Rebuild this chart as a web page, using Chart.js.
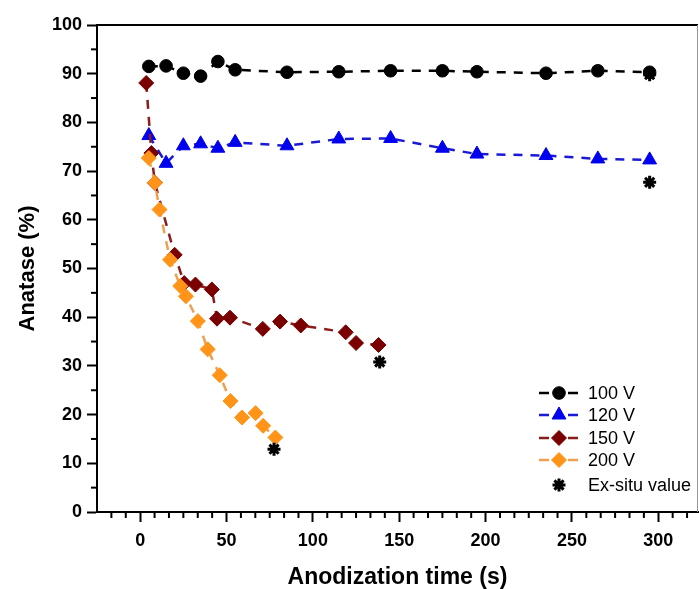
<!DOCTYPE html>
<html>
<head>
<meta charset="utf-8">
<script src="https://cdn.jsdelivr.net/npm/chart.js@4.4.0/dist/chart.umd.min.js"></script>
<style>
  html, body { margin: 0; padding: 0; background: #fff; }
</style>
</head>
<body>
<canvas id="anataseChart" width="699" height="589"></canvas>
<script>
// Anatase fraction vs anodization time
const time100 = [5, 15, 25, 35, 45, 55, 85, 115, 145, 175, 195, 235, 265, 295];
const anatase100 = [91.5, 91.6, 90.1, 89.5, 92.5, 90.8, 90.3, 90.4, 90.6, 90.6, 90.4, 90.1, 90.6, 90.3];

const time120 = [5, 15, 25, 35, 45, 55, 85, 115, 145, 175, 195, 235, 265, 295];
const anatase120 = [77.3, 71.6, 75.2, 75.6, 74.7, 75.9, 75.2, 76.6, 76.7, 74.7, 73.5, 73.2, 72.5, 72.3];

const time150 = [3.5, 6.5, 8.5, 20, 25.5, 32, 41.5, 44.5, 52, 71, 81, 93, 119, 125, 138];
const anatase150 = [88.1, 73.7, 67.6, 52.8, 47, 46.7, 45.7, 39.7, 39.9, 37.6, 39.1, 38.3, 36.9, 34.7, 34.3];

const time200 = [5, 8.5, 11.2, 17.3, 23.2, 26.5, 33.4, 39.1, 46.1, 52.3, 59, 66.8, 71.2, 78.3];
const anatase200 = [72.7, 67.6, 62.1, 51.8, 46.4, 44.3, 39.2, 33.4, 28.1, 22.8, 19.4, 20.3, 17.7, 15.3];

const timeExSitu = [295, 295, 138.7, 77.5];
const anataseExSitu = [89.8, 67.7, 30.8, 12.9];

const xTicks = [0, 50, 100, 150, 200, 250, 300];
const yTicks = [0, 10, 20, 30, 40, 50, 60, 70, 80, 90, 100];

const FONT = 'Liberation Sans, Arial, Helvetica, sans-serif';
Chart.defaults.font.family = FONT;
Chart.defaults.color = '#000';

const toPoints = (xs, ys) => xs.map((x, i) => ({ x: x, y: ys[i] }));

function lineSet(label, xs, ys, color, lineColor, style, radius, order) {
    return {
        label: label,
        data: toPoints(xs, ys),
        borderColor: lineColor,
        backgroundColor: color,
        pointBackgroundColor: color,
        pointBorderColor: color,
        pointBorderWidth: 1,
        pointStyle: style,
        pointRadius: radius,
        borderWidth: 2.5,
        borderDash: [9, 8],
        tension: 0,
        order: order
    };
}

// minor ticks + top/right frame
const framePlugin = {
    id: 'frame',
    afterDraw(chart) {
        const ctx = chart.ctx;
        const a = chart.chartArea;
        const xs = chart.scales.x, ys = chart.scales.y;
        ctx.save();
        ctx.strokeStyle = '#000';
        ctx.lineWidth = 2;
        ctx.beginPath();
        ctx.moveTo(a.left - 1, a.top);
        ctx.lineTo(a.right, a.top);
        ctx.stroke();
        // minor ticks
        for (let v = 5; v < 100; v += 10) {
            const py = ys.getPixelForValue(v);
            ctx.beginPath();
            ctx.moveTo(a.left - 6, py);
            ctx.lineTo(a.left, py);
            ctx.stroke();
        }
        for (let v = -25; v <= 325; v += 50 / 6) {
            if (Math.abs(v / 50 - Math.round(v / 50)) < 1e-6) continue;
            const px = xs.getPixelForValue(v);
            if (px < a.left + 1 || px > a.right) continue;
            ctx.beginPath();
            ctx.moveTo(px, a.bottom);
            ctx.lineTo(px, a.bottom + 6);
            ctx.stroke();
        }
        ctx.strokeStyle = '#999';
        ctx.lineWidth = 1;
        ctx.beginPath();
        ctx.moveTo(a.right - 0.5, a.top);
        ctx.lineTo(a.right - 0.5, a.bottom);
        ctx.stroke();
        ctx.restore();
    }
};

// legend drawn inside the plot, line-marker-line like the original
const legendPlugin = {
    id: 'innerLegend',
    afterDraw(chart) {
        const ctx = chart.ctx;
        const rowsY = [393, 415, 438, 460, 485];
        const x0 = 539, xm = 559, x1 = 578, xt = 588;
        ctx.save();
        ctx.font = '18px ' + FONT;
        ctx.textBaseline = 'middle';
        ctx.textAlign = 'left';
        chart.data.datasets.forEach((ds, i) => {
            const y = rowsY[i];
            if (ds.showLine !== false) {
                ctx.strokeStyle = ds.borderColor;
                ctx.lineWidth = 2.5;
                ctx.beginPath();
                ctx.moveTo(x0, y); ctx.lineTo(x0 + 10, y);
                ctx.moveTo(x1 - 10, y); ctx.lineTo(x1, y);
                ctx.stroke();
            }
            ctx.fillStyle = ds.pointBackgroundColor;
            ctx.strokeStyle = ds.pointBorderColor;
            ctx.lineWidth = ds.pointBorderWidth;
            Chart.helpers.drawPoint(ctx, {
                pointStyle: ds.pointStyle,
                radius: ds.pointRadius,
                rotation: 0,
                borderWidth: ds.pointBorderWidth
            }, xm, y);
            ctx.fillStyle = '#000';
            ctx.fillText(ds.label, xt, y + 1);
        });
        ctx.restore();
    }
};

const exSitu = {
    label: 'Ex-situ value',
    data: toPoints(timeExSitu, anataseExSitu),
    showLine: false,
    pointStyle: 'star',
    pointRadius: 6.5,
    pointBorderWidth: 3,
    pointBackgroundColor: '#000',
    pointBorderColor: '#000',
    borderColor: '#000',
    backgroundColor: '#000',
    order: 0
};

const noPad = s => { s.paddingLeft = 0; s.paddingRight = 0; s.paddingTop = 0; s.paddingBottom = 0; };

window.anataseChart = new Chart(document.getElementById('anataseChart').getContext('2d'), {
    type: 'line',
    data: {
        datasets: [
            lineSet('100 V', time100, anatase100, '#000000', '#000000', 'circle', 6.3, 4),
            lineSet('120 V', time120, anatase120, '#0000ee', '#1a1ad6', 'triangle', 8, 3),
            lineSet('150 V', time150, anatase150, '#7a0000', '#8a1c1c', 'rectRot', 7.5, 2),
            lineSet('200 V', time200, anatase200, '#ff9418', '#eea050', 'rectRot', 7.5, 1),
            exSitu
        ]
    },
    options: {
        responsive: false,
        animation: false,
        layout: { autoPadding: false, padding: { top: 25, right: 1, left: 0, bottom: 0 } },
        plugins: {
            legend: { display: false },
            tooltip: { enabled: false }
        },
        scales: {
            x: {
                type: 'linear',
                min: -25,
                max: 323,
                afterBuildTicks: s => { s.ticks = xTicks.map(v => ({ value: v })); },
                afterFit: s => { s.height = 77; noPad(s); },
                border: { display: true, color: '#000', width: 2 },
                grid: { drawOnChartArea: false, drawTicks: true, tickLength: 10, tickWidth: 2, color: '#000' },
                ticks: { color: '#000', font: { size: 18, weight: 'bold' }, padding: 8, maxRotation: 0 },
                title: {
                    display: true,
                    text: 'Anodization time (s)',
                    color: '#000',
                    font: { size: 23, weight: 'bold', lineHeight: 1.0 },
                    padding: { top: 6, bottom: 0 }
                }
            },
            y: {
                min: 0,
                max: 100,
                afterBuildTicks: s => { s.ticks = yTicks.map(v => ({ value: v })); },
                afterFit: s => { s.width = 97; noPad(s); },
                border: { display: true, color: '#000', width: 2 },
                grid: { drawOnChartArea: false, drawTicks: true, tickLength: 10, tickWidth: 2, color: '#000' },
                ticks: { color: '#000', font: { size: 18, weight: 'bold' }, padding: 5 },
                title: {
                    display: true,
                    text: 'Anatase (%)',
                    color: '#000',
                    font: { size: 22, weight: 'bold' },
                    padding: { top: 15, bottom: 0 }
                }
            }
        }
    },
    plugins: [framePlugin, legendPlugin]
});
</script>
</body>
</html>
